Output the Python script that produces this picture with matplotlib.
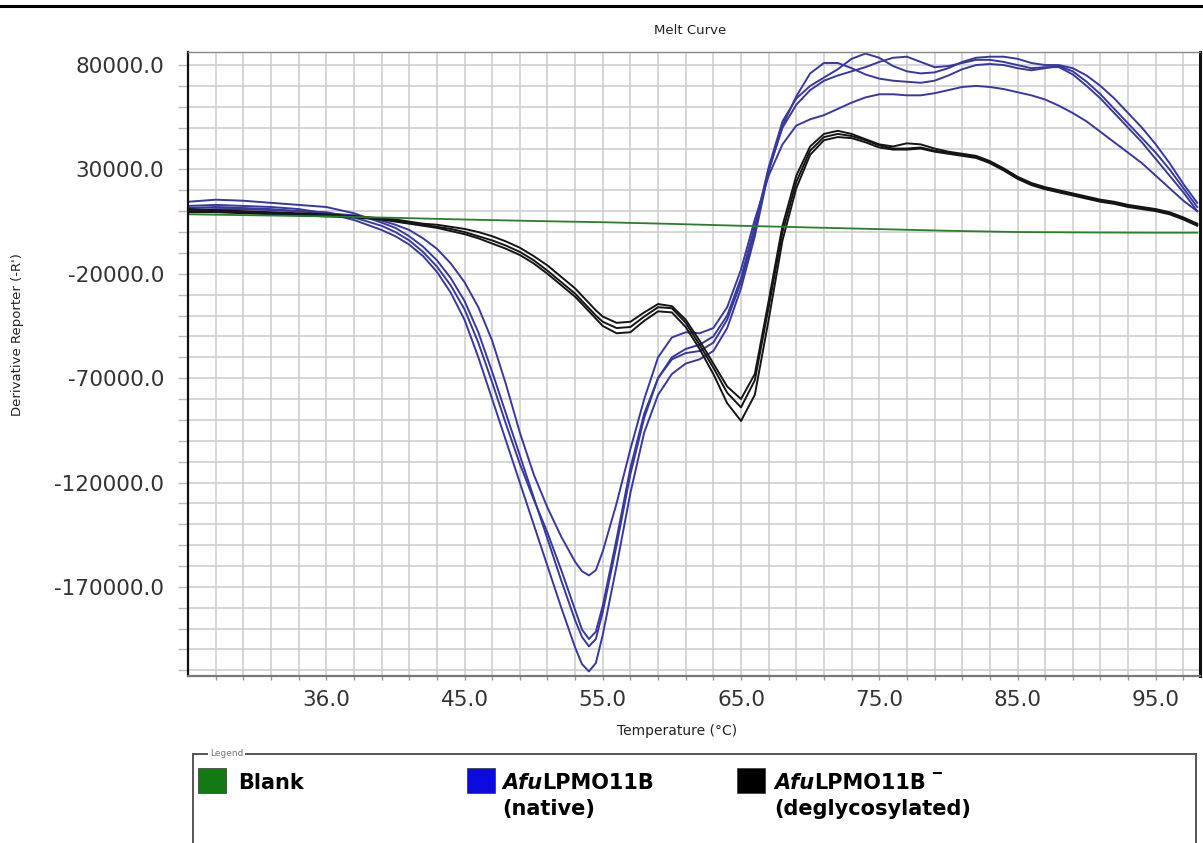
import matplotlib
matplotlib.use("Agg")
import matplotlib.pyplot as plt
from matplotlib.lines import Line2D
from matplotlib.patches import Rectangle

# ---- data -------------------------------------------------------------
temps = [25, 27, 29, 31, 33, 35, 37, 39, 40, 41, 42, 43, 44, 45, 46, 47, 48,
         49, 50, 51, 52, 53, 53.5, 54, 54.5, 55, 56, 57, 58, 59, 60, 61, 62,
         63, 64, 65, 66, 67, 68, 69, 70, 71, 72, 73, 74, 75, 76, 77, 78, 79,
         80, 81, 82, 83, 84, 85, 86, 87, 88, 89, 90, 91, 92, 93, 94, 95, 96,
         97, 98]

native_1 = [14500, 15500, 15000, 14000, 13000, 12000, 9000, 4500, 2000, -2000,
            -7000, -13500, -22000, -33000, -48000, -67000, -87000, -107000,
            -127000, -147000, -167000, -186000, -194000, -198500, -195000,
            -182000, -150000, -116000, -89000, -70000, -60000, -56000, -54000,
            -50000, -40000, -22000, 3000, 31000, 53000, 64000, 70000, 74000,
            78000, 83000, 85500, 83500, 79500, 77000, 76000, 76500, 78500,
            81500, 83500, 84000, 84000, 83000, 81000, 80000, 80000, 78500,
            75000, 70000, 64000, 57000, 50000, 42000, 33000, 23000, 14000]

native_2 = [12500, 13000, 12500, 12000, 11000, 9000, 5800, 1000, -2000, -6000,
            -11500, -19000, -29000, -42000, -60000, -80000, -100000, -120000,
            -140000, -160000, -180000, -199000, -207000, -210500, -206500,
            -193000, -160000, -125000, -96000, -78000, -68000, -63000, -61000,
            -57000, -46000, -27000, -2000, 29000, 51000, 65000, 76000, 81000,
            81000, 78500, 75500, 73500, 72500, 72000, 71500, 72500, 75000,
            78000, 80000, 80500, 80000, 78500, 77500, 78500, 79500, 77000,
            72000, 66000, 59000, 52000, 45000, 38000, 30000, 21000, 12000]

native_3 = [11500, 12000, 11500, 11000, 10000, 9500, 7000, 3000, 0, -4000,
            -9500, -16500, -25500, -37000, -53000, -72000, -92000, -111000,
            -128000, -144000, -162000, -181000, -190500, -195000, -191500,
            -179000, -147000, -113000, -87000, -70000, -61000, -58000, -57000,
            -53000, -42000, -24000, 0, 30000, 50000, 61000, 68000, 72500,
            75000, 77000, 79000, 81500, 83500, 84000, 81500, 79000, 79500,
            81000, 82500, 82500, 81500, 80000, 78500, 79000, 79000, 75500,
            70000, 64000, 57000, 50000, 43000, 35000, 27000, 19000, 10000]

native_4 = [10500, 11000, 11000, 10500, 10000, 9000, 8000, 5500, 3500, 1000,
            -3000, -8000, -15000, -24000, -36000, -52000, -73000, -96000,
            -116000, -132000, -146000, -158000, -162500, -164500, -162000,
            -153000, -130000, -104000, -80000, -60000, -50500, -48000, -48500,
            -46000, -36000, -18000, 6000, 27000, 42000, 51000, 54000, 56000,
            59000, 62000, 64500, 66000, 66000, 65500, 65500, 66500, 68000,
            69500, 70000, 69500, 68500, 67000, 65500, 63500, 60500, 57000,
            53000, 48000, 43000, 38000, 33000, 27000, 21000, 15000, 10000]

degly_1 = [11000, 10500, 10000, 9500, 9000, 8500, 7500, 6500, 6000, 5000,
           4000, 3500, 2500, 1500, 0, -2000, -4500, -7500, -11500, -16000,
           -21500, -27000, -30500, -34000, -37500, -40500, -43500, -43000,
           -38500, -34500, -35500, -42000, -52000, -63000, -74000, -80000,
           -68000, -33000, 3000, 27000, 41000, 47000, 48500, 47000, 44500,
           42000, 41000, 42500, 42000, 40000, 38500, 37500, 36500, 34000,
           30500, 26500, 23500, 21500, 20000, 18500, 17000, 15500, 14500,
           13000, 12000, 11000, 9500, 7000, 4000]

degly_2 = [10000, 10000, 9500, 9000, 8500, 8000, 7500, 6500, 5500, 4500,
           3500, 2500, 1500, 0, -2000, -4000, -6500, -9500, -13500, -18500,
           -24000, -29500, -33000, -36500, -40000, -43000, -46000, -45500,
           -40500, -36000, -36500, -43500, -54000, -65000, -77000, -84000,
           -71000, -36000, 0, 24000, 39000, 45500, 47000, 46000, 44000,
           41500, 40000, 40000, 40500, 39000, 38000, 37000, 36000, 33500,
           30000, 26000, 23000, 21000, 19500, 18000, 16500, 15000, 14000,
           12500, 11500, 10500, 9000, 6500, 3500]

degly_3 = [9500, 9500, 9000, 8500, 8000, 7500, 7000, 6000, 5000, 4000,
           3000, 2000, 500, -1000, -3000, -5500, -8000, -11000, -15000,
           -20000, -25500, -31000, -34500, -38000, -41500, -45000, -48500,
           -48000, -42500, -38000, -38500, -45500, -56000, -68000, -82000,
           -90500, -78000, -42000, -4000, 21000, 37000, 44000, 45500, 45000,
           43000, 40500, 39500, 39500, 40000, 38500, 37500, 36500, 35500,
           33000, 29500, 25500, 22500, 20500, 19000, 17500, 16000, 14500,
           13500, 12000, 11000, 10000, 8500, 6000, 3000]

blank_temps = [25, 30, 35, 40, 45, 50, 55, 60, 65, 70, 75, 80, 85, 90, 95, 98]
blank_values = [8500, 8000, 7500, 6800, 6000, 5300, 4700, 3900, 3000, 2200,
                1400, 600, 0, -200, -300, -300]

x_major = [35, 45, 55, 65, 75, 85, 95]
x_labels = ["36.0", "45.0", "55.0", "65.0", "75.0", "85.0", "95.0"]
y_major = [80000, 30000, -20000, -70000, -120000, -170000]
y_labels = ["80000.0", "30000.0", "-20000.0", "-70000.0", "-120000.0",
            "-170000.0"]

legend_names = ["Blank", "native", "deglycosylated"]
legend_colors = ["#137a13", "#0b0be0", "#000000"]

# ---- figure -----------------------------------------------------------
W, H = 1203, 843
fig = plt.figure(figsize=(W / 100, H / 100), dpi=100)
fig.patch.set_facecolor("white")


def fx(px):
    return px / W


def fy(py):
    return 1 - py / H


ax = fig.add_axes([fx(188), fy(676), fx(1200) - fx(188), fy(51.7) - fy(676)])
ax.set_xlim(25, 98.2)
ax.set_ylim(-212700, 86400)

# grid every 2 degrees / 10000 units
xg = list(range(27, 98, 2))
yg = list(range(-210000, 80001, 10000))
ax.set_xticks(xg)
ax.set_xticklabels([x_labels[x_major.index(v)] if v in x_major else "" for v in xg])
ax.set_yticks(yg)
ax.set_yticklabels([y_labels[y_major.index(v)] if v in y_major else "" for v in yg])
ax.grid(True, color="#cdcdcd", linewidth=1.15)
ax.set_axisbelow(True)
ax.tick_params(axis="x", length=3, width=1, color="#999999", pad=7,
               labelsize=15.5, labelcolor="#333333")
ax.tick_params(axis="y", length=7.5, width=1, color="#bbbbbb", pad=9.5,
               labelsize=15.5, labelcolor="#333333")

for s, c, w in [("left", "#111111", 1.6), ("bottom", "#777777", 1.6),
                ("top", "#888888", 1.0), ("right", "#111111", 2.2)]:
    ax.spines[s].set_color(c)
    ax.spines[s].set_linewidth(w)

blue = "#38389e"
for series in [native_1, native_2, native_3, native_4]:
    ax.plot(temps, series, color=blue, linewidth=1.4, solid_joinstyle="round")
for series in [degly_1, degly_2, degly_3]:
    ax.plot(temps, series, color="#151515", linewidth=1.4, solid_joinstyle="round")
ax.plot(blank_temps, blank_values, color="#2a7d2a", linewidth=1.3)

# ---- texts --------------------------------------------------------------
fig.text(fx(690), fy(30), "Melt Curve", ha="center", va="center",
         fontsize=9.5, color="#222222")
fig.text(fx(677), fy(731), "Temperature (°C)", ha="center", va="center",
         fontsize=10, color="#222222")
fig.text(fx(18), fy(335), "Derivative Reporter (-R')", ha="center",
         va="center", rotation=90, fontsize=9.5, color="#222222")

# top rule
fig.add_artist(Line2D([0, 1], [fy(6), fy(6)], color="black", linewidth=2.2))

# ---- legend panel --------------------------------------------------------
frame = Rectangle((fx(193), fy(860)), fx(1196) - fx(193), fy(754) - fy(860),
                  transform=fig.transFigure, facecolor="white",
                  edgecolor="#555555", linewidth=1.4, clip_on=False)
fig.add_artist(frame)
fig.text(fx(210), fy(754), "Legend", ha="left", va="center", fontsize=6.5,
         color="#777777",
         bbox=dict(facecolor="white", edgecolor="none", pad=1.5))

sq_x = [198, 467, 737]
txt_x = [238, 502, 774]
for i in range(3):
    fig.add_artist(Rectangle((fx(sq_x[i]), fy(793)), fx(28), fy(768) - fy(793),
                             transform=fig.transFigure,
                             facecolor=legend_colors[i],
                             edgecolor="#333333", linewidth=0.5))

fs = 15
fig.text(fx(txt_x[0]), fy(789), legend_names[0], ha="left", va="baseline",
         fontsize=fs, fontweight="bold")

for i in (1, 2):
    t1 = fig.text(fx(txt_x[i]), fy(789), "Afu", ha="left", va="baseline",
                  fontsize=fs, fontweight="bold", fontstyle="italic")
    t2 = fig.text(0, 0, "LPMO11B", fontsize=fs, fontweight="bold",
                  ha="left", va="baseline")
    fig.canvas.draw()
    bb = t1.get_window_extent()
    t2.set_position((bb.x1 / W, fy(789)))
    if i == 2:
        fig.canvas.draw()
        bb2 = t2.get_window_extent()
        fig.text(bb2.x1 / W + fx(5), fy(773), "\u2012", ha="left",
                 va="center", fontsize=11, fontweight="bold")
    fig.text(fx(txt_x[i]), fy(815), "(" + legend_names[i] + ")", ha="left",
             va="baseline", fontsize=fs, fontweight="bold")

fig.savefig("out.png", dpi=100, facecolor="white")
